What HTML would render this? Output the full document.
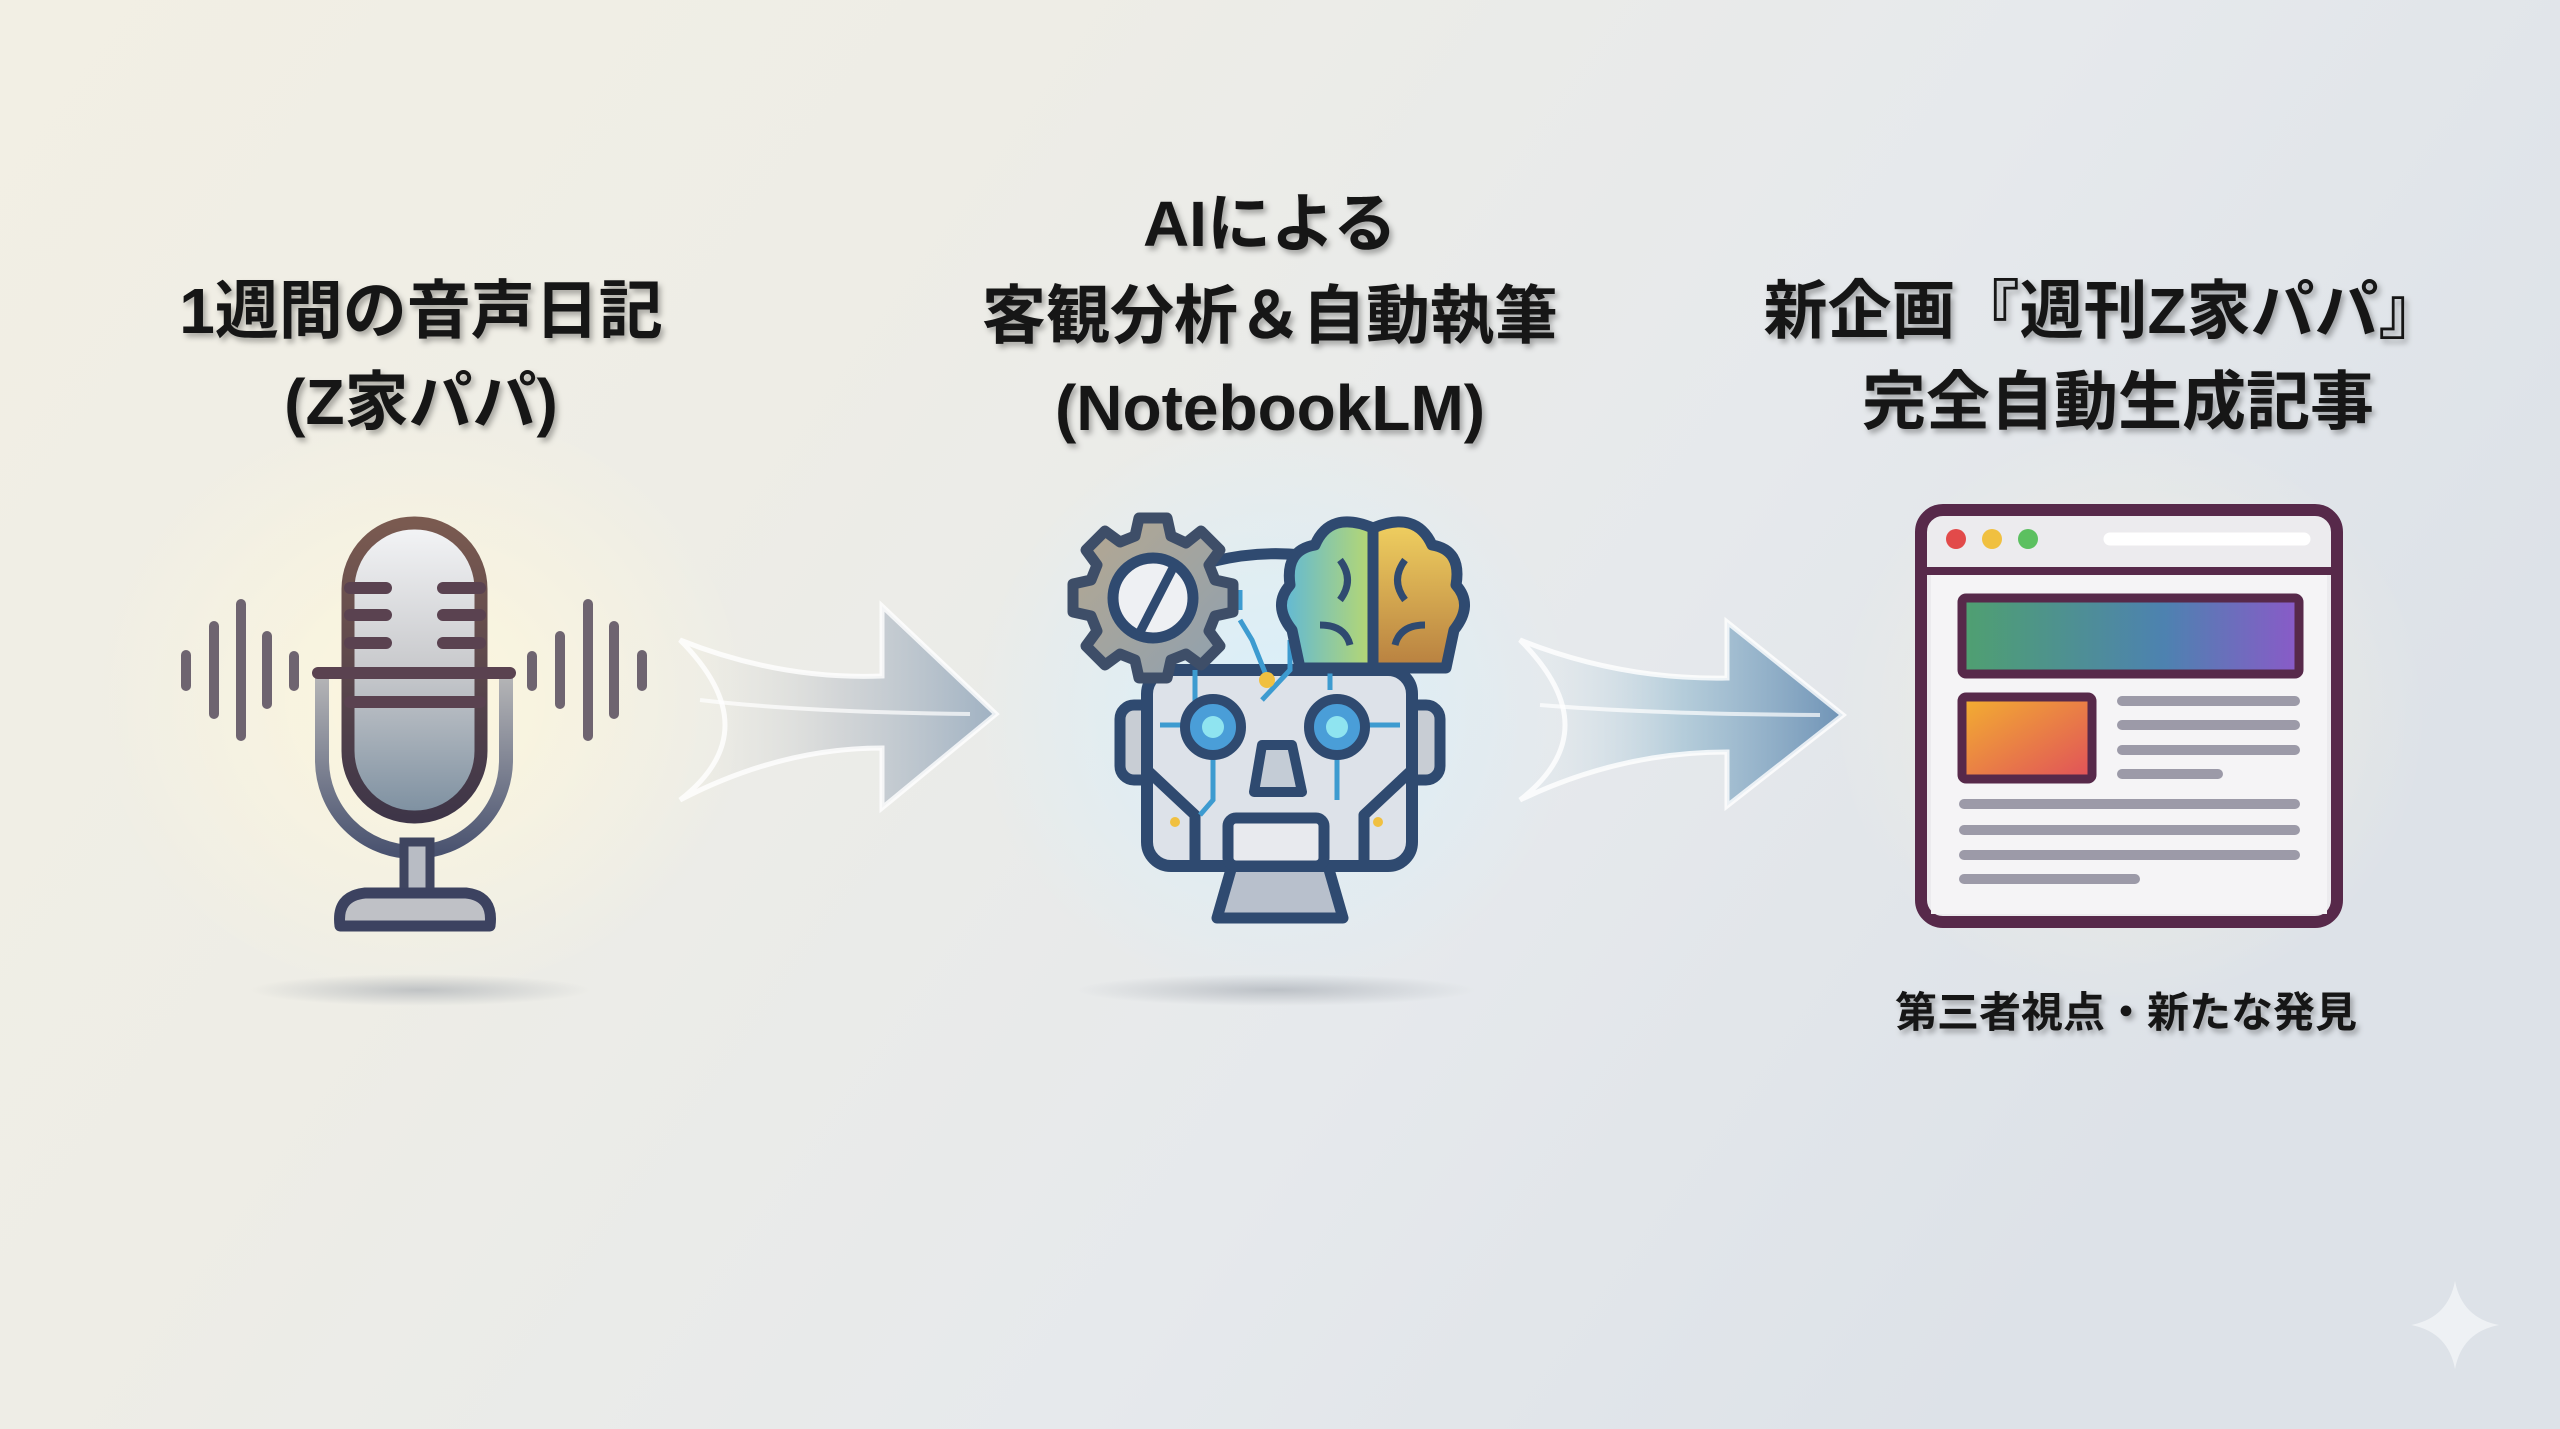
<!DOCTYPE html>
<html><head><meta charset="utf-8"><style>
html,body{margin:0;padding:0;}
body{width:2560px;height:1429px;overflow:hidden;}
svg{display:block;}
text{font-family:"Liberation Sans","Noto Sans CJK JP",sans-serif;font-weight:bold;fill:#151515;}
</style></head><body>
<svg width="2560" height="1429" viewBox="0 0 2560 1429" xmlns="http://www.w3.org/2000/svg">
<defs>
<linearGradient id="bg" x1="0" y1="0" x2="1" y2="0.4">
<stop offset="0" stop-color="#f2efe4"/><stop offset="0.35" stop-color="#eeede6"/><stop offset="0.7" stop-color="#e6e9ec"/><stop offset="1" stop-color="#dde2e8"/>
</linearGradient>
<radialGradient id="glowW" cx="0.5" cy="0.5" r="0.5"><stop offset="0" stop-color="#fff8dc" stop-opacity="0.9"/><stop offset="1" stop-color="#fff8dc" stop-opacity="0"/></radialGradient>
<radialGradient id="glowB" cx="0.5" cy="0.5" r="0.5"><stop offset="0" stop-color="#d8f0fb" stop-opacity="0.95"/><stop offset="1" stop-color="#d8f0fb" stop-opacity="0"/></radialGradient>
<radialGradient id="shad" cx="0.5" cy="0.5" r="0.5"><stop offset="0" stop-color="#9aa0a8" stop-opacity="0.55"/><stop offset="1" stop-color="#9aa0a8" stop-opacity="0"/></radialGradient>
<linearGradient id="arr1" x1="0" y1="0" x2="1" y2="0"><stop offset="0" stop-color="#e8e6dc" stop-opacity="0"/><stop offset="0.5" stop-color="#c8ccd0" stop-opacity="0.7"/><stop offset="1" stop-color="#9fb1c2"/></linearGradient>
<linearGradient id="arr2" x1="0" y1="0" x2="1" y2="0"><stop offset="0" stop-color="#dfe9ee" stop-opacity="0"/><stop offset="0.5" stop-color="#a9c6d6" stop-opacity="0.8"/><stop offset="1" stop-color="#6f93b6"/></linearGradient>
<linearGradient id="cap" x1="0" y1="0" x2="0" y2="1"><stop offset="0" stop-color="#f4f5f7"/><stop offset="0.5" stop-color="#c8c9cc"/><stop offset="1" stop-color="#7c8fa0"/></linearGradient>
<linearGradient id="capS" x1="0" y1="0" x2="0" y2="1"><stop offset="0" stop-color="#7a5a50"/><stop offset="1" stop-color="#3e3548"/></linearGradient>
<linearGradient id="yoke" x1="0" y1="0" x2="0" y2="1"><stop offset="0" stop-color="#b7b7b8"/><stop offset="1" stop-color="#4a5370"/></linearGradient>
<linearGradient id="banner" x1="0" y1="0" x2="1" y2="0"><stop offset="0" stop-color="#4fa070"/><stop offset="0.6" stop-color="#4d82b0"/><stop offset="1" stop-color="#8a5ac8"/></linearGradient>
<linearGradient id="orange" x1="0" y1="0" x2="1" y2="1"><stop offset="0" stop-color="#f3b030"/><stop offset="1" stop-color="#e0505a"/></linearGradient>
<linearGradient id="brainL" x1="0" y1="0" x2="1" y2="0"><stop offset="0" stop-color="#5fb8d8"/><stop offset="1" stop-color="#b8d870"/></linearGradient>
<linearGradient id="brainR" x1="0" y1="0" x2="0" y2="1"><stop offset="0" stop-color="#f0d060"/><stop offset="1" stop-color="#b88040"/></linearGradient>
<linearGradient id="gear" x1="0" y1="0" x2="1" y2="1"><stop offset="0" stop-color="#b6a890"/><stop offset="1" stop-color="#8ea0b0"/></linearGradient>
<filter id="ts" x="-10%" y="-20%" width="120%" height="150%"><feDropShadow dx="3" dy="4" stdDeviation="3" flood-color="#000" flood-opacity="0.3"/></filter>
</defs>
<rect width="2560" height="1429" fill="url(#bg)"/>

<!-- glows & shadows -->
<ellipse cx="420" cy="700" rx="330" ry="300" fill="url(#glowW)"/>
<ellipse cx="1275" cy="710" rx="300" ry="290" fill="url(#glowB)"/>
<ellipse cx="2130" cy="715" rx="300" ry="290" fill="url(#glowW)" opacity="0.6"/>
<ellipse cx="420" cy="990" rx="170" ry="16" fill="url(#shad)"/>
<ellipse cx="1275" cy="990" rx="200" ry="16" fill="url(#shad)"/>

<!-- texts -->
<g filter="url(#ts)" text-anchor="middle">
<text x="421" y="333" font-size="64">1週間の音声日記</text>
<text x="421" y="424" font-size="64">(Z家パパ)</text>
<text x="1270" y="246" font-size="64">AIによる</text>
<text x="1270" y="338" font-size="64">客観分析＆自動執筆</text>
<text x="1270" y="430" font-size="64">(NotebookLM)</text>
<text x="2103" y="333" font-size="64">新企画『週刊Z家パパ』</text>
<text x="2118" y="424" font-size="64">完全自動生成記事</text>
<text x="2126" y="1027" font-size="42">第三者視点・新たな発見</text>
</g>

<!-- mic waves -->
<g stroke="#6e6470" stroke-width="10" stroke-linecap="round">
<line x1="186" y1="655" x2="186" y2="686"/><line x1="214" y1="626" x2="214" y2="714"/><line x1="241" y1="604" x2="241" y2="736"/><line x1="267" y1="636" x2="267" y2="704"/><line x1="294" y1="656" x2="294" y2="686"/>
<line x1="532" y1="656" x2="532" y2="686"/><line x1="560" y1="636" x2="560" y2="704"/><line x1="588" y1="604" x2="588" y2="736"/><line x1="614" y1="626" x2="614" y2="714"/><line x1="642" y1="655" x2="642" y2="686"/>
</g>
<!-- mic -->
<path d="M322 673 V760 A92 92 0 0 0 506 760 V673" fill="none" stroke="url(#yoke)" stroke-width="14"/>
<rect x="348" y="523" width="133" height="294" rx="66" fill="url(#cap)" stroke="url(#capS)" stroke-width="13"/>
<g stroke="#5a4250" stroke-width="12" stroke-linecap="round">
<line x1="350" y1="588" x2="386" y2="588"/><line x1="443" y1="588" x2="480" y2="588"/>
<line x1="350" y1="615" x2="386" y2="615"/><line x1="443" y1="615" x2="480" y2="615"/>
<line x1="350" y1="643" x2="386" y2="643"/><line x1="443" y1="643" x2="480" y2="643"/>
<line x1="318" y1="673" x2="510" y2="673"/><line x1="350" y1="702" x2="480" y2="702"/>
</g>
<rect x="404" y="842" width="26" height="52" fill="#b8bcc4" stroke="#3f4560" stroke-width="9"/>
<path d="M340 926 Q336 896 365 893 H466 Q494 896 490 926 Z" fill="#bfc1c6" stroke="#3c4260" stroke-width="11" stroke-linejoin="round"/>

<!-- arrow 1 -->
<path d="M680 640 Q780 680 882 676 V606 L996 714 L882 808 V748 Q780 748 680 800 Q770 730 680 640 Z" fill="url(#arr1)" stroke="#fff" stroke-width="5" stroke-opacity="0.8"/>
<path d="M700 700 Q800 712 970 714" fill="none" stroke="#fff" stroke-width="4" opacity="0.7"/>
<!-- arrow 2 -->
<path d="M1520 640 Q1620 680 1727 678 V622 L1843 715 L1727 806 V752 Q1620 752 1520 800 Q1610 730 1520 640 Z" fill="url(#arr2)" stroke="#fff" stroke-width="5" stroke-opacity="0.8"/>
<path d="M1540 705 Q1650 714 1820 715" fill="none" stroke="#fff" stroke-width="4" opacity="0.7"/>

<!-- robot -->
<g stroke="#2f4a70" stroke-linejoin="round">
<path d="M1160 580 Q1270 530 1380 575" fill="none" stroke-width="11"/>
<rect x="1120" y="705" width="40" height="75" rx="14" fill="#c8cdd4" stroke-width="11"/>
<rect x="1400" y="705" width="40" height="75" rx="14" fill="#c8cdd4" stroke-width="11"/>
<path d="M1232 866 H1328 L1343 918 H1217 Z" fill="#b8c0cc" stroke-width="11"/>
<rect x="1147" y="670" width="265" height="196" rx="24" fill="#dde2e9" stroke-width="12"/>
<path d="M1147 770 L1195 815 V866" fill="none" stroke-width="11"/>
<path d="M1412 770 L1364 815 V866" fill="none" stroke-width="11"/>
<rect x="1228" y="818" width="96" height="48" rx="8" fill="#e8eaee" stroke-width="11"/>
<path d="M1262 745 H1292 L1302 792 H1254 Z" fill="#c4ccd6" stroke-width="10"/>
</g>
<g stroke="#3d9bd0" stroke-width="5" fill="none">
<path d="M1195 670 V705"/><path d="M1213 757 V800 L1200 815"/><path d="M1262 700 L1290 670 V640"/><path d="M1160 725 H1183"/><path d="M1367 725 H1400"/><path d="M1337 757 V800"/><path d="M1330 670 V690"/>
<path d="M1240 590 V610"/><path d="M1240 620 L1252 640 L1268 680"/>
</g>
<g fill="#f0c040"><circle cx="1175" cy="822" r="5"/><circle cx="1378" cy="822" r="5"/><circle cx="1267" cy="680" r="8"/></g>
<g stroke="#2f4a70" stroke-width="10"><circle cx="1213" cy="727" r="28" fill="#4a9ed8"/><circle cx="1337" cy="727" r="28" fill="#4a9ed8"/></g>
<circle cx="1213" cy="727" r="11" fill="#8fe4f0"/><circle cx="1337" cy="727" r="11" fill="#8fe4f0"/>
<!-- gear -->
<g transform="translate(1153,598)">
<g fill="url(#gear)" stroke="#3e4e68" stroke-width="11" stroke-linejoin="round">
<path d="M-14 -80 H14 L18 -62 L33 -55 L48 -67 L67 -48 L56 -33 L62 -18 L80 -14 V14 L62 18 L56 33 L67 48 L48 67 L33 56 L18 62 L14 80 H-14 L-18 62 L-33 56 L-48 67 L-67 48 L-56 33 L-62 18 L-80 14 V-14 L-62 -18 L-56 -33 L-67 -48 L-48 -67 L-33 -56 L-18 -62 Z"/>
</g>
<circle r="40" fill="#eef0f3" stroke="#2f4a70" stroke-width="11"/>
<path d="M22 -34 L-14 36" stroke="#2f4a70" stroke-width="9"/>
</g>
<!-- brain -->
<g stroke="#2f4a70" stroke-width="11" stroke-linejoin="round">
<path d="M1373 528 Q1330 510 1315 545 Q1285 550 1290 585 Q1272 605 1292 630 L1300 668 H1373 Z" fill="url(#brainL)"/>
<path d="M1373 528 Q1416 510 1432 545 Q1462 550 1456 585 Q1474 605 1454 630 L1446 668 H1373 Z" fill="url(#brainR)"/>
<path d="M1340 560 Q1355 580 1340 600 M1405 560 Q1390 580 1405 600 M1320 625 Q1345 625 1350 645 M1425 625 Q1400 625 1395 645" fill="none" stroke-width="7"/>
</g>

<!-- browser -->
<rect x="1921" y="510" width="416" height="412" rx="22" fill="#ecebee" stroke="#57294a" stroke-width="12"/>
<rect x="1931" y="572" width="396" height="342" fill="#f5f4f6"/>
<line x1="1927" y1="571" x2="2331" y2="571" stroke="#57294a" stroke-width="8"/>
<circle cx="1956" cy="539" r="10" fill="#e24a4a"/><circle cx="1992" cy="539" r="10" fill="#f0c040"/><circle cx="2028" cy="539" r="10" fill="#5cc060"/>
<line x1="2110" y1="539" x2="2304" y2="539" stroke="#fff" stroke-width="13" stroke-linecap="round"/>
<rect x="1962" y="598" width="337" height="76" rx="4" fill="url(#banner)" stroke="#57294a" stroke-width="9"/>
<rect x="1962" y="697" width="130" height="82" rx="4" fill="url(#orange)" stroke="#57294a" stroke-width="9"/>
<g stroke="#9c9aa8" stroke-width="10" stroke-linecap="round">
<line x1="2122" y1="701" x2="2295" y2="701"/><line x1="2122" y1="725" x2="2295" y2="725"/><line x1="2122" y1="750" x2="2295" y2="750"/><line x1="2122" y1="774" x2="2218" y2="774"/>
<line x1="1964" y1="804" x2="2295" y2="804"/><line x1="1964" y1="830" x2="2295" y2="830"/><line x1="1964" y1="855" x2="2295" y2="855"/><line x1="1964" y1="879" x2="2135" y2="879"/>
</g>

<!-- sparkle -->
<path d="M2455 1281 Q2462 1318 2499 1325 Q2462 1332 2455 1369 Q2448 1332 2411 1325 Q2448 1318 2455 1281 Z" fill="#eef1f4"/>
</svg>
</body></html>
